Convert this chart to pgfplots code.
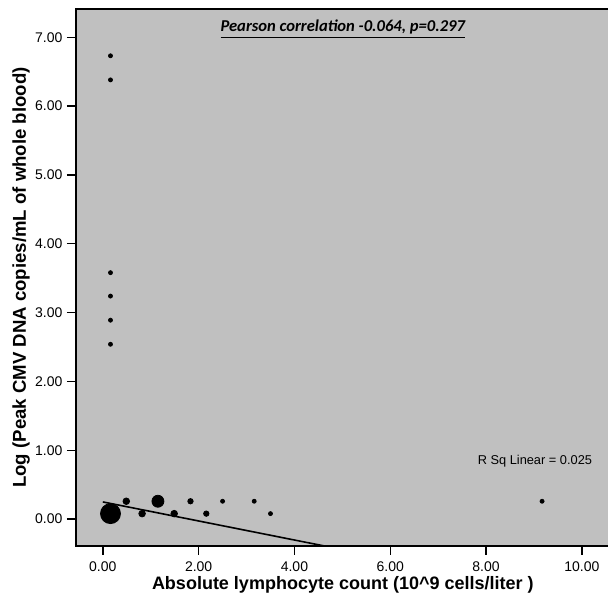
\documentclass[border=0pt]{standalone}
\usepackage{fontspec}
\setmainfont{Liberation Sans}
\newfontfamily\calibri{Carlito}
\usepackage{pgfplots}
\pgfplotsset{compat=1.18}
\definecolor{spssGray}{HTML}{C0C0C0}

\begin{document}
\begin{tikzpicture}
\begin{axis}[
    scale only axis,
    width=266.8pt, height=268.5pt,
    xmin=-0.56, xmax=10.58,
    ymin=-0.39, ymax=7.41,
    xtick={0,2,...,10},
    ytick={0,1,...,7},
    xtick pos=bottom, ytick pos=left,
    tick align=outside,
    major tick length=4.5pt,
    tick style={black, line width=0.7pt},
    axis line style={black, line width=1pt},
    axis background/.style={fill=spssGray},
    /pgf/number format/assume math mode=true,
    /pgf/number format/.cd, fixed, fixed zerofill, precision=2,
    /pgfplots/.cd,
    ticklabel style={font=\fontsize{7}{8}\selectfont},
    yticklabel style={xshift=1.2pt},
    xlabel={\bfseries Absolute lymphocyte count (10\string^9 cells/liter )},
    ylabel={\bfseries Log (Peak CMV DNA copies/mL of whole blood)},
    xlabel style={font=\fontsize{9}{10}\selectfont,
      at={(axis description cs:0.5,-0.0726)}, anchor=center},
    ylabel style={font=\fontsize{9.3}{10}\selectfont,
      at={(axis description cs:-0.103,0.5)}, anchor=center},
    clip=true
]
  \coordinate (bl) at (rel axis cs:0,0);
  \coordinate (tr) at (rel axis cs:1,1);

  % regression line
  \addplot[black, line width=0.8pt] coordinates {(0,0.25) (4.70,-0.40)};

  % points, grouped by marker size
  \addplot[only marks, mark=*, mark size=1pt, black] coordinates {
    (0.16,6.73) (0.16,6.38) (0.16,3.58) (0.16,3.24) (0.16,2.89) (0.16,2.54)
    (2.50,0.26) (3.16,0.26) (3.50,0.08) (9.17,0.26)};
  \addplot[only marks, mark=*, mark size=1.35pt, black] coordinates {
    (1.83,0.26) (2.16,0.08)};
  \addplot[only marks, mark=*, mark size=1.65pt, black] coordinates {
    (0.49,0.26) (0.82,0.08) (1.49,0.08)};
  \addplot[only marks, mark=*, mark size=3pt, black] coordinates {
    (1.15,0.26)};
  \addplot[only marks, mark=*, mark size=5pt, black] coordinates {
    (0.16,0.08)};

  \node[font=\calibri\bfseries\itshape\fontsize{8.3}{9}\selectfont, anchor=center]
    at (axis description cs:0.5,0.9625)
    {\underline{Pearson correlation -0.064, p=0.297}};
  \node[font=\fontsize{6.4}{7}\selectfont, anchor=east]
    at (axis cs:10.36,0.84) {R Sq Linear = 0.025};
\end{axis}
\pgfresetboundingbox
\path ([shift={(-38pt,-27.5pt)}]bl) rectangle ([shift={(266pt,4.5pt)}]bl |- tr);
\end{tikzpicture}
\end{document}
